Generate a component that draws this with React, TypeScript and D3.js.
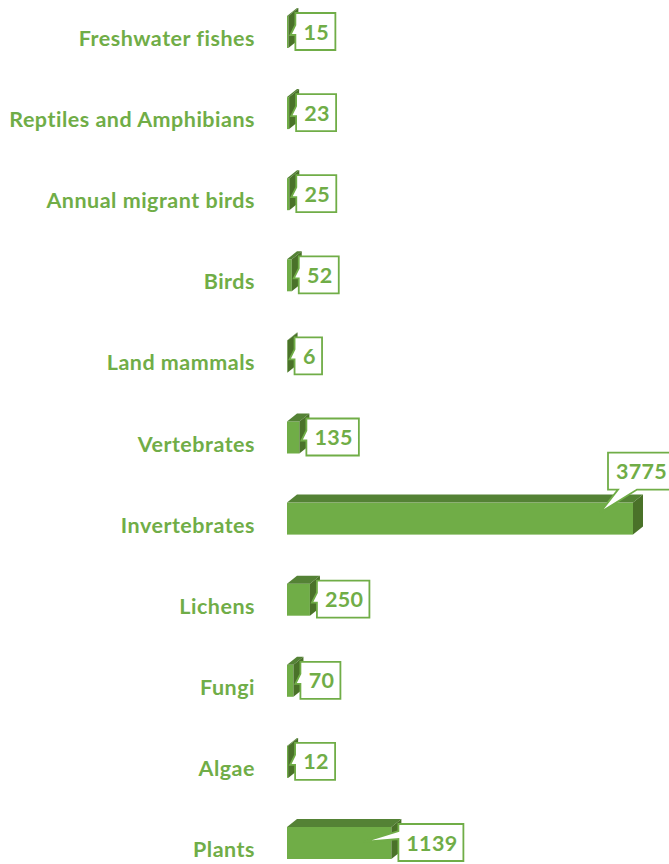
import React from "react";
import * as d3 from "d3";

const categories = [
  "Freshwater fishes",
  "Reptiles and Amphibians",
  "Annual migrant birds",
  "Birds",
  "Land mammals",
  "Vertebrates",
  "Invertebrates",
  "Lichens",
  "Fungi",
  "Algae",
  "Plants",
];
const values = [15, 23, 25, 52, 6, 135, 3775, 250, 70, 12, 1139];

const W = 669;
const H = 864;
const GREEN = "#70AD47";
const TOP = "#548235";
const SIDE = "#4A7229";
const DX = 10;
const DY = 8;

export default function App() {
  const y = d3.scalePoint<string>().domain(categories).range([39, 850]);
  const x = d3.scaleLinear().domain([0, 3775]).range([287, 633]);
  const font = "Lato, 'Liberation Sans', Arial, sans-serif";

  return (
    <div style={{ position: "absolute", left: 0, top: 0 }}>
      <svg width={W} height={H} style={{ display: "block", background: "#fff" }}>
        {categories.map((cat, i) => {
          const v = values[i];
          const c = y(cat)!;
          const x0 = x(0);
          const x1 = x(v);
          const ft = c - 23;
          const fb = c + 9;
          const top = `M${x0},${ft} L${x0 + DX},${ft - DY} L${x1 + DX},${ft - DY} L${x1},${ft} Z`;
          const side = `M${x1},${ft} L${x1 + DX},${ft - DY} L${x1 + DX},${fb - DY} L${x1},${fb} Z`;
          const label = String(v);
          const bw = label.length * 12.5 + 15;
          let path = "";
          let tx = 0;
          let ty = 0;
          if (cat === "Invertebrates") {
            const bl = x1 - 25;
            const bt = c - 73;
            const bb = c - 36;
            const br = bl + bw;
            tx = bl + bw / 2;
            ty = (bt + bb) / 2;
            path = `M${bl},${bt} H${br} V${bb} H${bl + 29} L${x1 - 33},${c - 13} L${bl + 10},${bb} H${bl} Z`;
          } else {
            const bl = x1 + 7;
            const bt = c - 26;
            const bb = bt + 37;
            const br = bl + bw;
            tx = bl + bw / 2;
            ty = (bt + bb) / 2;
            const tip =
              cat === "Plants" ? [x1 - 28, c - 8] : [Math.max(x1 + 2, x0 + 2), c - 4];
            const b1 = cat === "Plants" ? bt + 7 : bt + 12;
            const b2 = cat === "Plants" ? bt + 15 : bt + 22;
            path = `M${bl},${bt} H${br} V${bb} H${bl} V${b2} L${tip[0]},${tip[1]} L${bl},${b1} Z`;
          }
          return (
            <g key={cat}>
              <text
                x={255}
                y={c - 1}
                textAnchor="end"
                dominantBaseline="central"
                fontFamily={font}
                fontWeight="bold"
                fontSize={21.5}
                letterSpacing={0.5}
                fill={GREEN}
              >
                {cat}
              </text>
              <rect x={x0} y={ft} width={Math.max(0, x1 - x0)} height={fb - ft} fill={GREEN} />
              <path d={top} fill={TOP} />
              <path d={side} fill={SIDE} />
              <path d={path} fill="#fff" stroke={GREEN} strokeWidth={1.8} strokeLinejoin="miter" />
              <text
                x={tx + 1}
                y={ty}
                textAnchor="middle"
                dominantBaseline="central"
                fontFamily={font}
                fontWeight="bold"
                fontSize={21.5}
                letterSpacing={0.3}
                fill={GREEN}
              >
                {label}
              </text>
            </g>
          );
        })}
      </svg>
    </div>
  );
}
